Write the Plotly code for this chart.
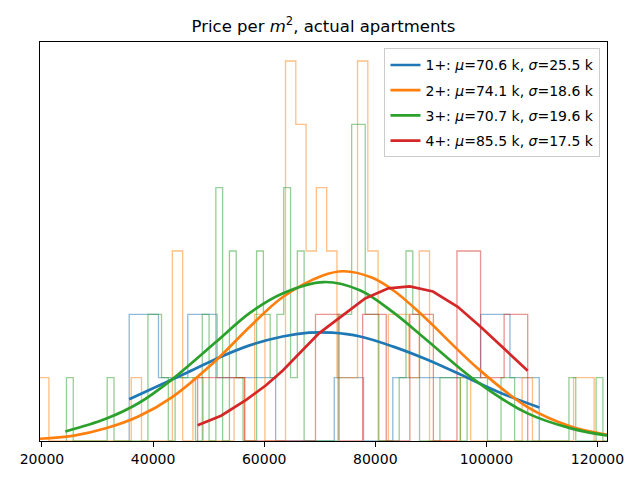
import plotly.graph_objects as go

# ---------------- data ----------------
SERIES = ["1+", "2+", "3+", "4+"]
MU_K = [70.6, 74.1, 70.7, 85.5]
SIGMA_K = [25.5, 18.6, 19.6, 17.5]

# histogram bins: first edge, bin width, counts per bin
BLUE_BIN_START = 35700
BLUE_BIN_WIDTH = 5273
BLUE_COUNTS = [2, 1, 2, 1, 1, 0, 0, 1, 0, 1, 1, 1, 2, 1]

ORANGE_BIN_START = 19393
ORANGE_BIN_WIDTH = 1852
ORANGE_COUNTS = [1, 0, 0, 0, 0, 0, 0, 0, 0, 1, 0, 0, 0, 3, 0, 1, 0, 0, 0,
                 1, 0, 2, 0, 0, 6, 5, 3, 4, 3, 1, 1, 6, 3, 0, 2, 2, 1, 3,
                 0, 0, 0, 1, 0, 0, 0, 0, 0, 1, 0, 0, 0, 0, 1, 1, 0]

GREEN_BIN_START = 24408
GREEN_BIN_WIDTH = 1222.4
GREEN_COUNTS = [1, 0, 0, 0, 0, 0, 1, 0, 0, 0, 0, 0, 2, 2, 1, 0, 1, 1, 1, 0,
                2, 0, 4, 0, 3, 1, 0, 0, 3, 2, 1, 2, 4, 1, 3, 0, 0, 0, 0, 0,
                2, 2, 5, 5, 2, 2, 0, 0, 0, 1, 3, 2, 0, 0, 0, 1, 1, 1, 0, 1,
                1, 1, 0, 0, 1, 1, 0, 0, 0, 0, 0, 0, 0, 0, 1, 0, 0, 0, 1, 0]

RED_BIN_START = 48017
RED_BIN_WIDTH = 4244.5
RED_COUNTS = [1, 1, 0, 0, 0, 2, 0, 2, 0, 2, 0, 3, 1, 2]

# fitted normal curves, sampled points (x, height in count units)
BLUE_CURVE_X = [35700, 46357, 51408, 57367, 63310, 68075, 72233, 77283,
                83243, 89186, 96300, 102266, 109530]
BLUE_CURVE_Y = [0.66, 1.09, 1.30, 1.51, 1.65, 1.71, 1.71, 1.65,
                1.49, 1.29, 1.01, 0.77, 0.53]

ORANGE_CURVE_X = [19500, 25532, 31492, 37435, 43377, 51408, 57367, 63310,
                  70448, 74320, 79370, 83528, 88293, 98411, 107333, 115216,
                  121610, 122200]
ORANGE_CURVE_Y = [0.035, 0.08, 0.20, 0.39, 0.69, 1.28, 1.80, 2.27,
                  2.61, 2.68, 2.58, 2.36, 2.00, 1.15, 0.54, 0.23,
                  0.10, 0.09]

GREEN_CURVE_X = [24200, 31492, 37435, 43377, 51408, 57367, 63310, 70751,
                 77229, 83243, 89186, 98108, 107333, 115216, 121610, 122200]
GREEN_CURVE_Y = [0.15, 0.35, 0.60, 0.97, 1.57, 2.02, 2.33, 2.51,
                 2.38, 2.03, 1.60, 0.95, 0.44, 0.20, 0.09, 0.085]

RED_CURVE_X = [48017, 52246, 56761, 60330, 63310, 69859, 78175, 82351,
               86205, 90381, 94842, 98999, 107440]
RED_CURVE_Y = [0.25, 0.40, 0.65, 0.88, 1.11, 1.70, 2.25, 2.41,
               2.44, 2.36, 2.12, 1.80, 1.11]

X_TICKS = [20000, 40000, 60000, 80000, 100000, 120000]
X_RANGE = [19643, 121717]
Y_RANGE = [0, 6.3]

COLORS = ["#1f77b4", "#ff7f0e", "#2ca02c", "#d62728"]
HIST_COLORS = ["rgba(31,119,180,0.5)", "rgba(255,127,14,0.5)",
               "rgba(44,160,44,0.5)", "rgba(214,39,40,0.5)"]


def step_outline(start, width, counts):
    xs = [start]
    ys = [0]
    for i, c in enumerate(counts):
        xs += [start + i * width, start + (i + 1) * width]
        ys += [c, c]
    xs.append(start + len(counts) * width)
    ys.append(0)
    return xs, ys


hists = [
    (BLUE_BIN_START, BLUE_BIN_WIDTH, BLUE_COUNTS),
    (ORANGE_BIN_START, ORANGE_BIN_WIDTH, ORANGE_COUNTS),
    (GREEN_BIN_START, GREEN_BIN_WIDTH, GREEN_COUNTS),
    (RED_BIN_START, RED_BIN_WIDTH, RED_COUNTS),
]
curves = [
    (BLUE_CURVE_X, BLUE_CURVE_Y, "spline"),
    (ORANGE_CURVE_X, ORANGE_CURVE_Y, "spline"),
    (GREEN_CURVE_X, GREEN_CURVE_Y, "spline"),
    (RED_CURVE_X, RED_CURVE_Y, "linear"),
]

fig = go.Figure()

for i in range(4):
    hx, hy = step_outline(*hists[i])
    fig.add_trace(go.Scatter(
        x=hx, y=hy, mode="lines",
        line=dict(color=HIST_COLORS[i], width=1.3),
        showlegend=False, hoverinfo="skip", cliponaxis=True))

for i in range(4):
    cx, cy, shape = curves[i]
    name = (f"{SERIES[i]}: <i>μ</i>={MU_K[i]} k, "
            f"<i>σ</i>={SIGMA_K[i]} k")
    fig.add_trace(go.Scatter(
        x=cx, y=cy, mode="lines", name=name,
        legendgroup=f"g{i}",
        line=dict(color=COLORS[i], width=2.7, shape=shape)))

# the page body adds an 8 px margin, so the figure is 8 px smaller
fig.update_layout(
    width=632, height=472,
    margin=dict(l=27, r=33, t=34, b=39),
    paper_bgcolor="white", plot_bgcolor="white",
    font=dict(family="DejaVu Sans", size=14, color="black"),
    title=dict(text="Price per <i>m</i><sup>2</sup>, actual apartments",
               x=0.5, xref="paper", xanchor="center",
               y=1 - 18 / 472, yref="container", yanchor="middle",
               font=dict(size=16.5, family="DejaVu Sans")),
    legend=dict(x=0.9885, xanchor="right", y=0.984, yanchor="top",
                bgcolor="rgba(255,255,255,0.8)", bordercolor="#cccccc",
                borderwidth=1, font=dict(size=14, family="DejaVu Sans"),
                tracegroupgap=4),
    showlegend=True,
)

fig.update_xaxes(range=X_RANGE, tickvals=X_TICKS, tickformat="d",
                 showgrid=False, zeroline=False, showline=True,
                 linecolor="black", linewidth=1, mirror=True,
                 ticks="outside", ticklen=5, tickcolor="black",
                 tickfont=dict(size=14))
fig.update_yaxes(range=Y_RANGE, showticklabels=False, showgrid=False,
                 zeroline=False, showline=True, linecolor="black",
                 linewidth=1, mirror=True, ticks="")

fig.write_html("out.html")
